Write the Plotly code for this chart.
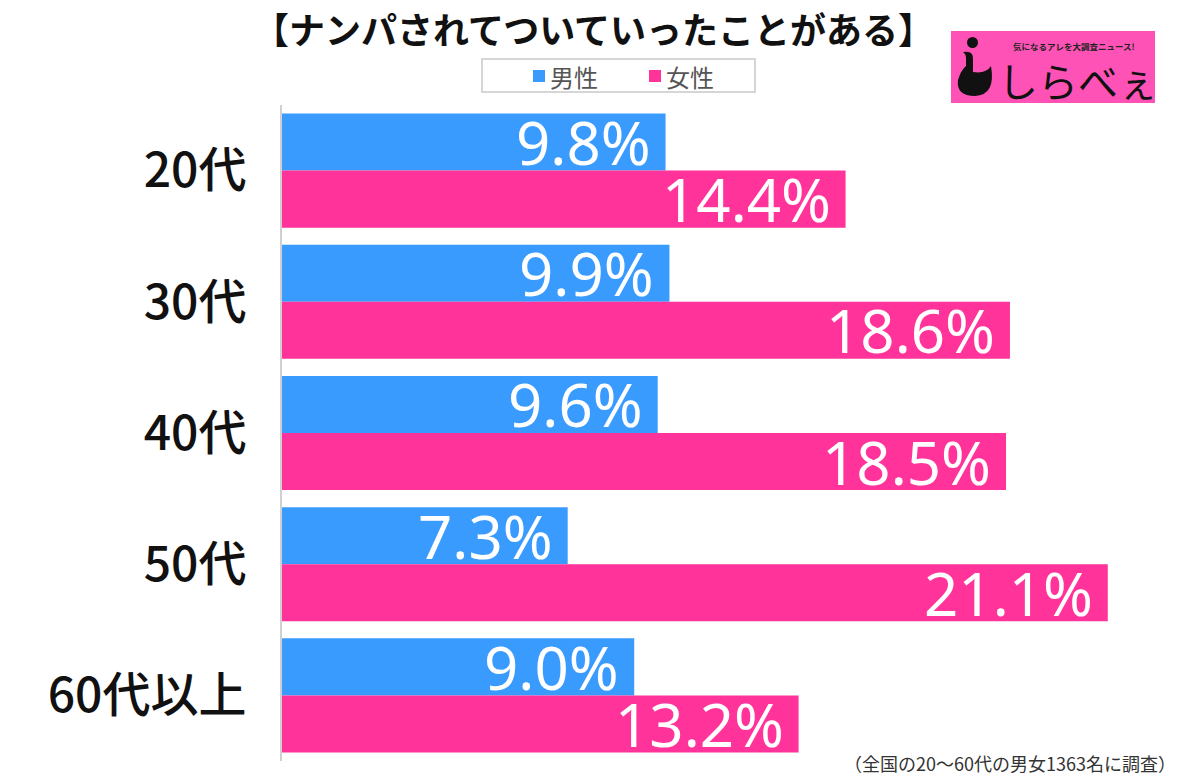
import plotly.graph_objects as go

categories = ["20代", "30代", "40代", "50代", "60代以上"]
male = [9.8, 9.9, 9.6, 7.3, 9.0]
female = [14.4, 18.6, 18.5, 21.1, 13.2]
series_names = ["男性", "女性"]
title_text = "【ナンパされてついていったことがある】"
note_text = "（全国の20～60代の男女1363名に調査）"

BLUE = "#3a9bff"
PINK = "#ff3399"
JP = "Noto Sans CJK JP, sans-serif"

W, Hh = 1200, 779
L, R, T, B = 282, 57, 105, 18
pw = W - L - R
ph = Hh - T - B


def px(xp):
    return (xp - L) / pw


def py(yp):
    return (Hh - B - yp) / ph


fig = go.Figure()
fig.add_trace(go.Bar(y=categories, x=male, name=series_names[0], orientation="h",
                     marker=dict(color=BLUE, line=dict(width=0)), showlegend=False))
fig.add_trace(go.Bar(y=categories, x=female, name=series_names[1], orientation="h",
                     marker=dict(color=PINK, line=dict(width=0)), showlegend=False))

bargap = 0.13
step = ph / len(categories)
offset = step * (1 - bargap) / 4

annotations = []
for c, m, f in zip(categories, male, female):
    for val, sh in ((m, offset), (f, -offset)):
        annotations.append(dict(x=val, y=c, xref="x", yref="y", text=f"{val:.1f}%",
                                showarrow=False, xanchor="right", yanchor="middle",
                                xshift=-13, yshift=sh,
                                font=dict(family="Noto Sans, sans-serif", size=60, color="white")))

# title
annotations.append(dict(x=px(593), y=py(0), xref="paper", yref="paper",
                        text="<b>" + title_text + "</b>",
                        showarrow=False, xanchor="center", yanchor="top",
                        font=dict(family=JP, size=36, color="#111")))
# footnote
annotations.append(dict(x=px(1178), y=py(778), xref="paper", yref="paper", text=note_text,
                        showarrow=False, xanchor="right", yanchor="bottom",
                        font=dict(family=JP, size=18, color="#333")))
# legend (manual)
leg_items = [(series_names[0], BLUE, 533), (series_names[1], PINK, 649)]
shapes = [
    dict(type="rect", xref="paper", yref="paper", x0=px(482), x1=px(755), y0=py(92), y1=py(59),
         fillcolor="white", line=dict(color="#d6d6d6", width=2)),
]
for name, col, x0 in leg_items:
    shapes.append(dict(type="rect", xref="paper", yref="paper", x0=px(x0), x1=px(x0 + 12),
                       y0=py(82), y1=py(70), fillcolor=col, line=dict(width=0)))
    annotations.append(dict(x=px(x0 + 15), y=py(76), xref="paper", yref="paper", text=name,
                            showarrow=False, xanchor="left", yanchor="middle",
                            font=dict(family=JP, size=24, color="#555")))

# logo
annotations.append(dict(x=px(1074), y=py(46), xref="paper", yref="paper",
                        text="<b>気になるアレを大調査ニュース!</b>", showarrow=False,
                        xanchor="center", yanchor="middle",
                        font=dict(family=JP, size=8.5, color="#222")))
annotations.append(dict(x=px(1078), y=py(80), xref="paper", yref="paper",
                        text="しらべぇ", showarrow=False,
                        xanchor="center", yanchor="middle",
                        font=dict(family=JP, size=40, color="#111")))
shapes += [
    dict(type="rect", xref="paper", yref="paper", x0=px(951), x1=px(1155), y0=py(103), y1=py(31),
         fillcolor="#ff52b6", line=dict(width=0), layer="below"),
    dict(type="circle", xref="paper", yref="paper", x0=px(967), x1=px(978), y0=py(48), y1=py(37),
         fillcolor="#111", line=dict(width=0)),
    dict(type="path", xref="paper", yref="paper",
         path=" ".join([
             f"M {px(963)} {py(52)}",
             f"Q {px(974)} {py(50)} {px(973)} {py(60)}",
             f"L {px(973)} {py(72)}",
             f"Q {px(986)} {py(74)} {px(991)} {py(66)}",
             f"Q {px(996)} {py(95)} {px(975)} {py(96)}",
             f"Q {px(956)} {py(96)} {px(958)} {py(80)}",
             f"Q {px(961)} {py(70)} {px(966)} {py(66)}",
             f"L {px(966)} {py(58)}",
             f"Q {px(966)} {py(54)} {px(963)} {py(52)} Z"]),
         fillcolor="#111", line=dict(width=0)),
]

fig.update_layout(
    annotations=annotations,
    shapes=shapes,
    width=W, height=Hh,
    margin=dict(l=L, r=R, t=T, b=B, pad=0),
    paper_bgcolor="white", plot_bgcolor="white",
    barmode="group", bargap=bargap, bargroupgap=0,
    showlegend=False,
    xaxis=dict(range=[0, 22], visible=False, showgrid=False, zeroline=False, fixedrange=True),
    yaxis=dict(type="category", categoryorder="array", categoryarray=categories,
               range=[len(categories) - 0.5, -0.5], autorange=False,
               showgrid=False, zeroline=False,
               showline=True, linecolor="#d0d0d0", linewidth=2, ticks="",
               ticklabelstandoff=24,
               tickfont=dict(family=JP, size=48, color="#111", weight=500)),
)

fig.write_html("out.html")
